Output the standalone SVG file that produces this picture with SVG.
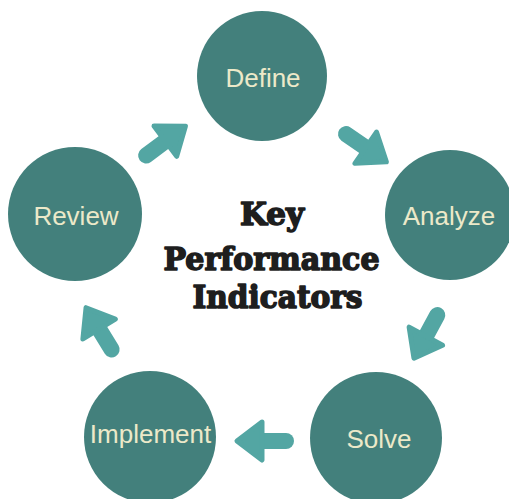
<svg xmlns="http://www.w3.org/2000/svg" width="509" height="499" viewBox="0 0 509 499">
<defs>
<style>
.node circle{fill:#43807c}
.node text{fill:#ece9c9;font-family:"Liberation Sans",Arial,sans-serif;font-size:26px;text-anchor:middle}
.title{fill:#1e1e1e;stroke:#1e1e1e;stroke-width:1.6;stroke-linejoin:round;font-family:"DejaVu Serif",serif;font-weight:bold;font-size:31px;text-anchor:middle}
.stem{stroke:#53a6a3;stroke-width:16;stroke-linecap:round;fill:none}
.head{fill:#53a6a3;stroke:#53a6a3;stroke-width:5;stroke-linejoin:round}
</style>
<g id="arrow">
<line class="stem" x1="-51" y1="0" x2="-24" y2="0"/>
<polygon class="head" points="-2,0 -27,-19 -27,19"/>
</g>
</defs>
<rect width="509" height="499" fill="#ffffff"/>
<g id="connectors">
<use href="#arrow" transform="translate(187,125) rotate(-36.7)"/>
<use href="#arrow" transform="translate(388,163) rotate(34.5)"/>
<use href="#arrow" transform="translate(413,360) rotate(118.4)"/>
<use href="#arrow" transform="translate(235,441) rotate(180)"/>
<use href="#arrow" transform="translate(85,306) rotate(-121.5)"/>
</g>
<g id="define" class="node"><circle cx="262" cy="76" r="65"/><text x="263" y="87">Define</text></g>
<g id="analyze" class="node"><circle cx="450" cy="215" r="65"/><text x="449" y="225">Analyze</text></g>
<g id="solve" class="node"><circle cx="376" cy="438" r="66"/><text x="379" y="448">Solve</text></g>
<g id="implement" class="node"><circle cx="150" cy="437" r="66"/><text x="150.5" y="443">Implement</text></g>
<g id="review" class="node"><circle cx="75" cy="214" r="67"/><text x="76" y="225">Review</text></g>
<g id="center">
<text class="title" x="272" y="225" textLength="64" lengthAdjust="spacingAndGlyphs">Key</text>
<text class="title" x="271.5" y="270" textLength="216" lengthAdjust="spacingAndGlyphs">Performance</text>
<text class="title" x="277.5" y="308" textLength="170" lengthAdjust="spacingAndGlyphs">Indicators</text>
</g>
</svg>
